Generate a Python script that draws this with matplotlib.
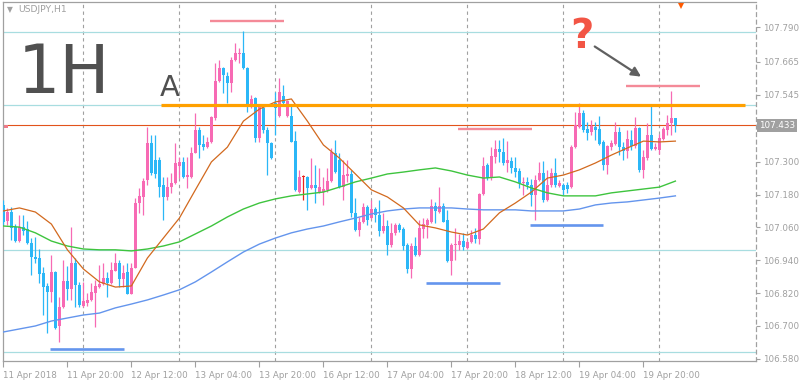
import numpy as np
import matplotlib.pyplot as plt
import matplotlib.transforms as mtransforms
from matplotlib.patches import Rectangle

# USDJPY H1 ローソク足 (11 Apr 04:00 - 20 Apr 04:00)
opens = [
    107.142, 107.083, 107.116, 107.061, 107.010, 107.061, 107.054, 107.003, 106.952, 106.948,
    106.894, 106.846, 106.824, 106.897, 106.700, 106.769, 106.864, 106.835, 106.930, 106.850,
    106.773, 106.784, 106.795, 106.821, 106.842, 106.853, 106.875, 106.857, 106.901, 106.930,
    106.872, 106.897, 106.817, 106.912, 107.149, 107.171, 107.233, 107.368, 107.306, 107.306,
    107.215, 107.171, 107.207, 107.222, 107.284, 107.299, 107.244, 107.244, 107.332, 107.416,
    107.364, 107.353, 107.372, 107.459, 107.594, 107.642, 107.613, 107.587, 107.671, 107.693,
    107.697, 107.642, 107.510, 107.532, 107.386, 107.496, 107.416, 107.368, 107.514, 107.467,
    107.540, 107.467, 107.467, 107.375, 107.189, 107.244, 107.244, 107.204, 107.215, 107.189,
    107.189, 107.197, 107.229, 107.332, 107.306, 107.207, 107.248, 107.255, 107.113, 107.050,
    107.080, 107.134, 107.094, 107.127, 107.105, 107.047, 107.065, 106.996, 107.040, 107.069,
    107.054, 106.996, 106.908, 106.992, 106.959, 107.054, 107.069, 107.080, 107.138, 107.116,
    107.138, 107.087, 106.937, 106.996, 106.996, 107.010, 106.985, 107.007, 107.032, 107.018,
    107.182, 107.288, 107.240, 107.317, 107.346, 107.335, 107.295, 107.302, 107.277, 107.266,
    107.222, 107.226, 107.215, 107.178, 107.233, 107.259, 107.160, 107.215, 107.259, 107.211,
    107.215, 107.215, 107.207, 107.353, 107.426, 107.478, 107.419, 107.408, 107.426, 107.419,
    107.372, 107.288, 107.353, 107.364, 107.408, 107.353, 107.339, 107.379, 107.357, 107.423,
    107.270, 107.313, 107.397, 107.346, 107.343, 107.383, 107.416, 107.441, 107.459,
]
highs = [
    107.160, 107.131, 107.134, 107.072, 107.105, 107.105, 107.083, 107.021, 107.025, 106.981,
    106.915, 106.857, 106.959, 106.899, 106.806, 106.941, 106.919, 107.061, 106.948, 106.861,
    106.861, 106.821, 106.857, 106.868, 106.923, 106.930, 106.897, 106.934, 106.967, 106.941,
    106.923, 106.930, 106.930, 107.167, 107.204, 107.240, 107.426, 107.397, 107.397, 107.317,
    107.244, 107.244, 107.259, 107.368, 107.317, 107.317, 107.317, 107.353, 107.478, 107.426,
    107.397, 107.390, 107.465, 107.660, 107.671, 107.645, 107.627, 107.682, 107.733, 107.715,
    107.777, 107.645, 107.543, 107.536, 107.501, 107.503, 107.426, 107.372, 107.554, 107.605,
    107.580, 107.525, 107.507, 107.412, 107.270, 107.251, 107.246, 107.313, 107.288, 107.277,
    107.244, 107.277, 107.350, 107.379, 107.332, 107.306, 107.306, 107.270, 107.167, 107.098,
    107.149, 107.142, 107.160, 107.134, 107.160, 107.113, 107.087, 107.076, 107.076, 107.076,
    107.061, 107.003, 107.003, 107.025, 107.087, 107.094, 107.094, 107.164, 107.153, 107.207,
    107.149, 107.124, 107.003, 107.058, 107.036, 107.040, 107.014, 107.050, 107.058, 107.186,
    107.317, 107.295, 107.353, 107.379, 107.379, 107.386, 107.375, 107.317, 107.317, 107.277,
    107.244, 107.244, 107.237, 107.251, 107.299, 107.302, 107.270, 107.277, 107.313, 107.233,
    107.222, 107.226, 107.361, 107.481, 107.514, 107.489, 107.445, 107.452, 107.445, 107.467,
    107.379, 107.361, 107.379, 107.445, 107.426, 107.372, 107.416, 107.416, 107.463, 107.425,
    107.343, 107.441, 107.510, 107.368, 107.401, 107.426, 107.470, 107.558, 107.461,
]
lows = [
    107.069, 107.069, 107.014, 107.008, 107.007, 107.032, 107.001, 106.886, 106.930, 106.857,
    106.740, 106.675, 106.788, 106.689, 106.642, 106.767, 106.795, 106.795, 106.769, 106.769,
    106.769, 106.773, 106.791, 106.696, 106.840, 106.850, 106.806, 106.855, 106.899, 106.842,
    106.842, 106.815, 106.815, 106.910, 107.113, 107.105, 107.215, 107.251, 107.240, 107.171,
    107.087, 107.160, 107.186, 107.220, 107.240, 107.240, 107.204, 107.242, 107.330, 107.313,
    107.343, 107.350, 107.368, 107.452, 107.590, 107.551, 107.514, 107.554, 107.667, 107.660,
    107.640, 107.481, 107.496, 107.372, 107.372, 107.405, 107.251, 107.311, 107.397, 107.463,
    107.512, 107.463, 107.370, 107.193, 107.187, 107.160, 107.124, 107.200, 107.149, 107.186,
    107.142, 107.189, 107.226, 107.259, 107.204, 107.160, 107.226, 107.098, 107.048, 107.029,
    107.076, 107.069, 107.092, 107.080, 107.029, 107.040, 106.959, 106.988, 107.032, 107.043,
    106.978, 106.894, 106.875, 106.957, 106.955, 107.021, 107.021, 107.076, 107.076, 107.113,
    107.078, 106.935, 106.886, 106.941, 106.978, 106.978, 106.981, 107.003, 107.003, 107.000,
    107.178, 107.233, 107.233, 107.295, 107.299, 107.288, 107.262, 107.259, 107.244, 107.204,
    107.178, 107.200, 107.138, 107.087, 107.231, 107.153, 107.156, 107.207, 107.207, 107.207,
    107.178, 107.186, 107.204, 107.350, 107.424, 107.408, 107.379, 107.397, 107.379, 107.361,
    107.270, 107.255, 107.343, 107.361, 107.324, 107.306, 107.313, 107.343, 107.350, 107.262,
    107.240, 107.306, 107.343, 107.343, 107.328, 107.379, 107.397, 107.397, 107.408,
]
closes = [
    107.080, 107.116, 107.058, 107.010, 107.061, 107.047, 107.003, 106.952, 106.945, 106.890,
    106.842, 106.824, 106.897, 106.693, 106.769, 106.864, 106.835, 106.930, 106.850, 106.777,
    106.791, 106.795, 106.824, 106.846, 106.853, 106.875, 106.857, 106.904, 106.930, 106.872,
    106.894, 106.817, 106.912, 107.149, 107.175, 107.229, 107.368, 107.259, 107.255, 107.207,
    107.171, 107.207, 107.222, 107.295, 107.299, 107.244, 107.251, 107.332, 107.416, 107.361,
    107.353, 107.372, 107.463, 107.594, 107.642, 107.616, 107.587, 107.671, 107.697, 107.697,
    107.642, 107.510, 107.529, 107.386, 107.499, 107.416, 107.368, 107.313, 107.496, 107.554,
    107.514, 107.521, 107.372, 107.197, 107.244, 107.244, 107.204, 107.215, 107.204, 107.207,
    107.200, 107.229, 107.335, 107.262, 107.207, 107.251, 107.255, 107.113, 107.050, 107.080,
    107.134, 107.087, 107.127, 107.105, 107.047, 107.065, 106.996, 107.040, 107.069, 107.050,
    106.992, 106.908, 106.992, 106.959, 107.058, 107.072, 107.087, 107.138, 107.120, 107.138,
    107.080, 106.937, 106.996, 107.000, 107.010, 106.988, 107.007, 107.032, 107.018, 107.182,
    107.284, 107.240, 107.321, 107.346, 107.335, 107.295, 107.306, 107.277, 107.262, 107.222,
    107.226, 107.215, 107.178, 107.233, 107.259, 107.160, 107.215, 107.259, 107.215, 107.222,
    107.197, 107.200, 107.353, 107.434, 107.478, 107.416, 107.405, 107.430, 107.416, 107.364,
    107.288, 107.357, 107.368, 107.408, 107.353, 107.339, 107.383, 107.357, 107.423, 107.270,
    107.317, 107.397, 107.346, 107.353, 107.386, 107.419, 107.441, 107.459, 107.433,
]

# 移動平均線 (4本ごとに読み取り)
ma_idx = list(range(0, 169, 4))
ma_fast = [
    107.120, 107.131, 107.116, 107.072, 106.978, 106.908, 106.861, 106.842, 106.846, 106.948,
    107.021, 107.094, 107.197, 107.299, 107.353, 107.448, 107.492, 107.518, 107.529, 107.448,
    107.361, 107.313, 107.255, 107.197, 107.171, 107.131, 107.069, 107.058, 107.043, 107.032,
    107.054, 107.113, 107.149, 107.189, 107.240, 107.251, 107.270, 107.295, 107.324, 107.350,
    107.375, 107.372, 107.375,
]
ma_mid = [
    107.065, 107.061, 107.040, 107.010, 106.992, 106.981, 106.978, 106.978, 106.974, 106.981,
    106.992, 107.007, 107.036, 107.065, 107.098, 107.127, 107.149, 107.164, 107.175, 107.182,
    107.189, 107.207, 107.226, 107.240, 107.255, 107.262, 107.270, 107.277, 107.266, 107.251,
    107.240, 107.244, 107.226, 107.204, 107.186, 107.175, 107.175, 107.175, 107.186, 107.193,
    107.200, 107.207, 107.229,
]
ma_slow = [
    106.678, 106.689, 106.700, 106.718, 106.729, 106.740, 106.747, 106.766, 106.780, 106.795,
    106.813, 106.832, 106.861, 106.897, 106.934, 106.970, 106.999, 107.021, 107.040, 107.054,
    107.065, 107.080, 107.094, 107.109, 107.120, 107.127, 107.131, 107.131, 107.131, 107.127,
    107.124, 107.124, 107.124, 107.120, 107.120, 107.120, 107.127, 107.142, 107.149, 107.153,
    107.160, 107.167, 107.175,
]

# 水平線など
light_levels = [107.775, 107.507, 106.978, 106.605]
level_a = 107.507
last_price = 107.433
pink_marks = [(107.815, 51.75, 70.25), (107.420, 113.75, 132.25), (107.577, 155.75, 174.25)]
blue_marks = [(106.616, 11.75, 30.25), (106.857, 105.75, 124.25), (107.069, 131.75, 150.0)]
day_seps = [20, 44, 68, 92, 116, 140, 164]
xtick_pos = list(range(0, 161, 16))
xtick_labels = ['11 Apr 2018', '11 Apr 20:00', '12 Apr 12:00', '13 Apr 04:00', '13 Apr 20:00',
                '16 Apr 12:00', '17 Apr 04:00', '17 Apr 20:00', '18 Apr 12:00', '19 Apr 04:00',
                '19 Apr 20:00']
ytick_vals = [107.790, 107.665, 107.545, 107.300, 107.180, 107.060, 106.940, 106.820, 106.700, 106.580]

BULL = '#f76ab4'
BEAR = '#2bb7f7'
DOJI = '#e8241c'
GRAY = '#a0a0a0'

fig = plt.figure(figsize=(7.99, 3.82), dpi=100)
ax = fig.add_axes([3 / 799, 21 / 382, 753 / 799, 359 / 382])

o = np.array(opens)
h = np.array(highs)
l = np.array(lows)
c = np.array(closes)
x = np.arange(len(o))
cols = np.where(c > o, BULL, np.where(c < o, BEAR, DOJI))

# ローソク足
ax.vlines(x, l, h, colors=cols, lw=0.9, zorder=3)
body_h = np.maximum(np.abs(c - o), 0.0018)
ax.bar(x, body_h, width=0.78, bottom=np.minimum(o, c), color=cols, lw=0, zorder=3)

# 日付区切り
for d in day_seps:
    ax.axvline(d, color=GRAY, ls=(0, (3, 3)), lw=0.8, zorder=1)

for v in light_levels:
    ax.axhline(v, color='#a8dde0', lw=0.9, zorder=1.5)
ax.axhline(last_price, color='#e2531b', lw=0.8, zorder=2)
# 左端の小さな価格マーク
ax.add_patch(Rectangle((0, last_price - 0.009), 0.007, 0.009, transform=mtransforms.blended_transform_factory(ax.transAxes, ax.transData),
                       color='#f07a8a', lw=0, zorder=2))

# 移動平均
ax.plot(ma_idx, ma_slow, color='#6495ed', lw=1.0, zorder=4)
ax.plot(ma_idx, ma_mid, color='#3ec43e', lw=1.0, zorder=4)
ax.plot(ma_idx, ma_fast, color='#d2691e', lw=0.9, zorder=4)

ax.hlines(level_a, 39.5, 185.5, color='#ffa000', lw=2.3, zorder=5)
for v, x0, x1 in pink_marks:
    ax.hlines(v, x0, x1, color='#f48a98', lw=1.7, zorder=5)
for v, x0, x1 in blue_marks:
    ax.hlines(v, x0, x1, color='#6495ed', lw=1.9, zorder=5)

ax.annotate('', xy=(160, 107.605), xytext=(147.25, 107.726),
            arrowprops=dict(arrowstyle='-|>', color='#606060', lw=1.6, mutation_scale=14), zorder=6)
ax.plot(169.5, 107.868, marker='v', color='#ff5a00', ms=5, mew=0, zorder=6)

ax.set_xlim(-0.1, 188.15)
ax.set_ylim(106.572, 107.883)

# 軸
ax.yaxis.tick_right()
ax.set_yticks(ytick_vals)
ax.set_yticklabels([f'{v:.3f}' for v in ytick_vals])
ax.set_xticks(xtick_pos)
ax.set_xticklabels(xtick_labels, ha='left')
ax.tick_params(axis='y', length=3, width=0.8, color=GRAY, labelcolor=GRAY, labelsize=6.3, pad=2)
ax.tick_params(axis='x', length=4, width=0.8, color=GRAY, labelcolor=GRAY, labelsize=6.3, pad=3)
for s in ax.spines.values():
    s.set_color(GRAY)
    s.set_linewidth(0.9)
ax.spines['right'].set_linestyle((0, (3, 3)))

trans = mtransforms.blended_transform_factory(ax.transAxes, ax.transData)
ax.text(1.004, last_price, f'{last_price:.3f}', transform=trans, color='white', fontsize=6.3,
        va='center', ha='left', bbox=dict(facecolor=GRAY, edgecolor='none', pad=1.6))

# テキスト
fig.text(18 / 799, 1 - 93 / 382, '1H', fontsize=48, color='#505050', ha='left', va='baseline')
fig.text(160 / 799, 1 - 96 / 382, 'A', fontsize=21, color='#505050', ha='left', va='baseline')
fig.text(582 / 799, 1 - 37 / 382, '?', fontsize=29, fontweight='bold', color='#f25545',
         ha='center', va='center')
fig.text(7 / 799, 1 - 10 / 382, '\u25bc', fontsize=5.5, color=GRAY, ha='left', va='center')
fig.text(18 / 799, 1 - 10 / 382, 'USDJPY,H1', fontsize=6.7, color=GRAY, ha='left', va='center')

fig.savefig('out.png', dpi=100)
